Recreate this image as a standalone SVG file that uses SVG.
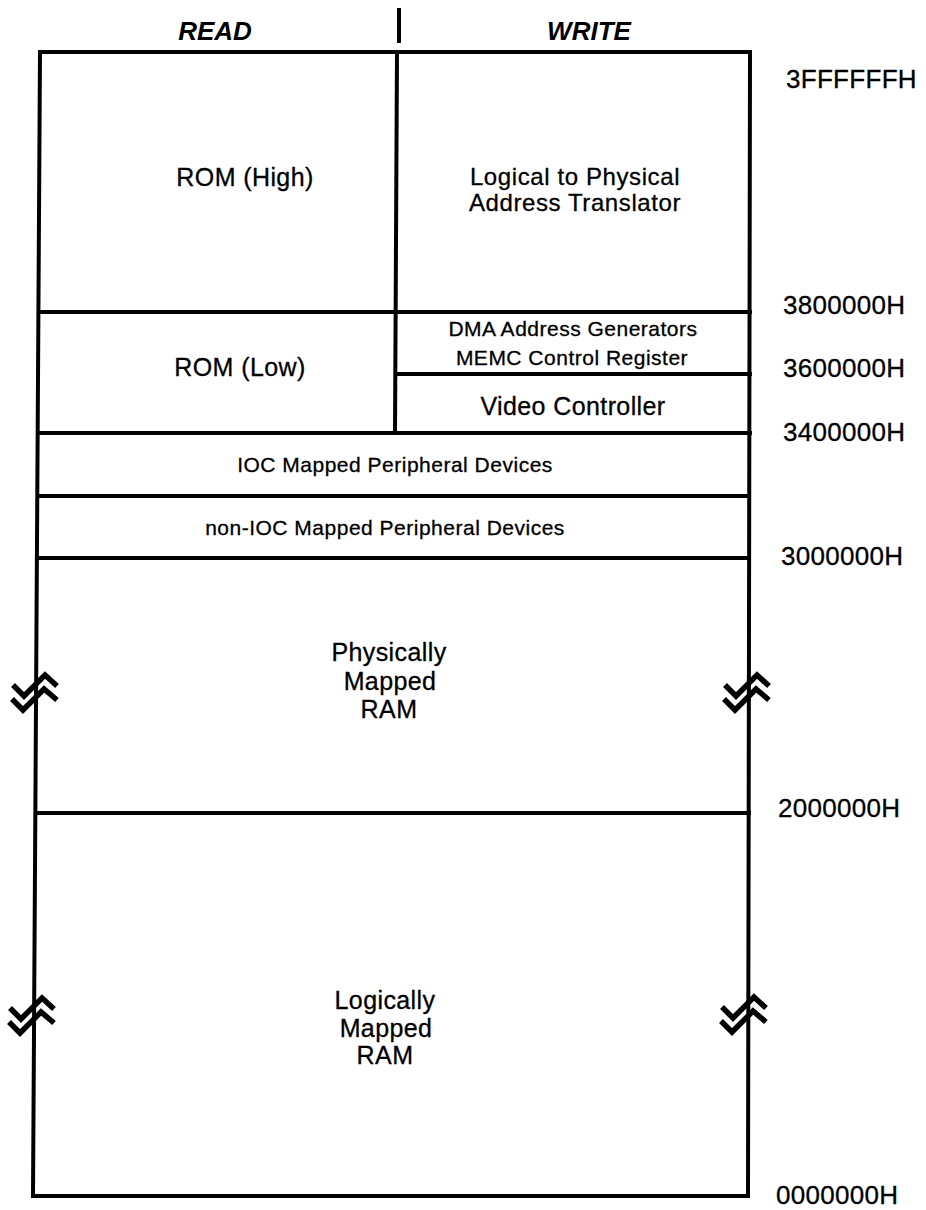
<svg xmlns="http://www.w3.org/2000/svg" width="926" height="1210" viewBox="0 0 926 1210">
<style>
  .ln { stroke: #000; stroke-width: 4; fill: none; stroke-linecap: square; }
  .t { font-family: "Liberation Sans", Arial, sans-serif; fill: #000; stroke: #000; stroke-width: 0.3; text-anchor: middle; }
  .big { font-size: 25px; letter-spacing: 0.4px; }
  .tr { font-size: 24px; letter-spacing: 0.6px; }
  .sm { font-size: 21px; letter-spacing: 0.5px; }
  .addr { font-family: "Liberation Sans", Arial, sans-serif; font-size: 26px; fill: #000; stroke: #000; stroke-width: 0.3; letter-spacing: 0.3px; }
  .hd { font-family: "Liberation Sans", Arial, sans-serif; font-size: 26px; font-weight: bold; font-style: italic; text-anchor: middle; fill: #000; }
  .brk { stroke: #000; stroke-width: 5.5; fill: none; stroke-linejoin: miter; stroke-linecap: butt; }
</style>
<defs>
  <g id="break">
    <path class="brk" d="M-23,-6 L-12,5 L9,-16 L21,-5"/>
    <path class="brk" d="M-24,8 L-13,19 L8,-2 L21,9"/>
  </g>
</defs>
<rect width="926" height="1210" fill="#fff"/>

<g id="header">
  <text class="hd" x="215" y="40">READ</text>
  <text class="hd" x="589" y="40">WRITE</text>
  <line class="ln" x1="399" y1="10" x2="399" y2="41"/>
</g>

<g id="frame">
  <path class="ln" d="M40,52 L750,52 L748,1196 L33,1196 Z"/>
  <line class="ln" x1="397" y1="52" x2="395" y2="433"/>
  <line class="ln" x1="39" y1="312" x2="750" y2="312"/>
  <line class="ln" x1="396" y1="374" x2="750" y2="374"/>
  <line class="ln" x1="38" y1="433" x2="750" y2="433"/>
  <line class="ln" x1="38" y1="496" x2="749" y2="496"/>
  <line class="ln" x1="37" y1="558" x2="749" y2="558"/>
  <line class="ln" x1="36" y1="813" x2="749" y2="813"/>
</g>

<g id="breaks">
  <use href="#break" x="36" y="691"/>
  <use href="#break" x="748" y="691"/>
  <use href="#break" x="33" y="1014"/>
  <use href="#break" x="745" y="1013"/>
</g>

<g id="rom-high"><text class="t big" x="245" y="186">ROM (High)</text></g>
<g id="translator">
  <text class="t tr" x="575" y="185">Logical to Physical</text>
  <text class="t tr" x="575" y="211">Address Translator</text>
</g>
<g id="rom-low"><text class="t big" x="240" y="376">ROM (Low)</text></g>
<g id="dma-memc">
  <text class="t sm" x="573" y="336">DMA Address Generators</text>
  <text class="t sm" x="572" y="365">MEMC Control Register</text>
</g>
<g id="video"><text class="t big" x="573" y="415">Video Controller</text></g>
<g id="ioc"><text class="t sm" x="395" y="472">IOC Mapped Peripheral Devices</text></g>
<g id="non-ioc"><text class="t sm" x="385" y="535">non-IOC Mapped Peripheral Devices</text></g>
<g id="phys-ram">
  <text class="t big" x="389" y="661">Physically</text>
  <text class="t big" x="390" y="690">Mapped</text>
  <text class="t big" x="389" y="718">RAM</text>
</g>
<g id="log-ram">
  <text class="t big" x="385" y="1009">Logically</text>
  <text class="t big" x="386" y="1037">Mapped</text>
  <text class="t big" x="385" y="1064">RAM</text>
</g>

<g id="addresses">
  <text class="addr" x="786" y="88">3FFFFFFH</text>
  <text class="addr" x="783" y="314">3800000H</text>
  <text class="addr" x="783" y="377">3600000H</text>
  <text class="addr" x="783" y="441">3400000H</text>
  <text class="addr" x="781" y="565">3000000H</text>
  <text class="addr" x="778" y="817">2000000H</text>
  <text class="addr" x="776" y="1204">0000000H</text>
</g>
</svg>
